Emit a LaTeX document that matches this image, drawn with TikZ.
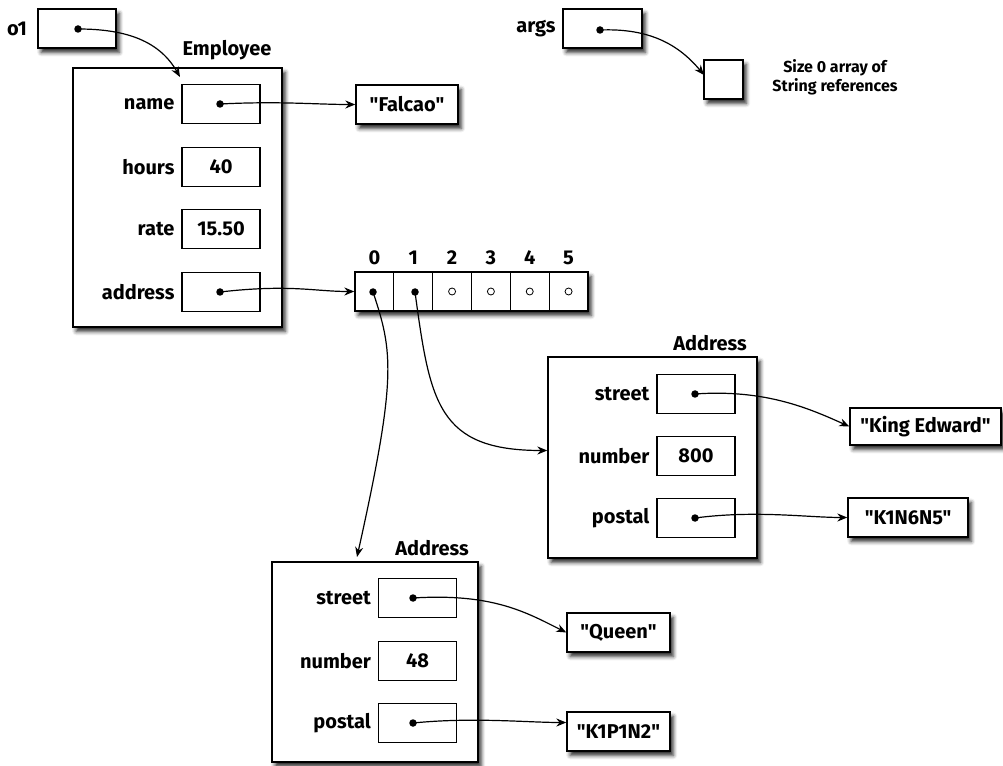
\documentclass[tikz,border=0pt]{standalone}
\usepackage{fontspec}
\setmainfont{Fira Sans}[Ligatures=TeXOff]
\usetikzlibrary{arrows.meta,shadows.blur,calc,positioning}
% straight double quotes around a string value
\newcommand{\strval}[1]{"#1"}

\begin{document}
\begin{tikzpicture}[x=0.75pt,y=-0.75pt,
  font=\bfseries\fontsize{15}{17}\selectfont,
  sz/.style 2 args={minimum width=#1*0.75pt, minimum height=#2*0.75pt},
  shad/.style={blur shadow={shadow xshift=2.4pt, shadow yshift=-3.3pt,
      shadow blur radius=3pt, shadow opacity=85}},
  obj/.style={draw, line width=1pt, fill=white, inner sep=0pt, shad},
  field/.style={draw, line width=1pt, fill=white, inner sep=0pt, sz={78}{39}},
  cell/.style={draw, line width=0.9pt, fill=white, inner sep=0pt, sz={38.83}{39}},
  strbox/.style={obj, inner xsep=5pt},
  lbl/.style={anchor=east, inner sep=0pt},
  ttl/.style={inner sep=0pt},
  dot/.style={circle, fill=black, inner sep=0pt, minimum size=7.5*0.75pt},
  odot/.style={circle, draw, line width=0.6pt, inner sep=0pt, minimum size=7*0.75pt},
  ptr/.style={line width=0.9pt, -{Stealth[length=10*0.75pt, width=8*0.75pt]}}
]
\useasboundingbox (0,0) rectangle (1003,766);

% ---------- local variable o1 ----------
\node[obj, sz={78}{39}] (o1) at (77,28.5) {};
\node[ttl] (o1lbl) at (17,29) {o1};
\node[dot] (o1d) at (78,29) {};

% ---------- Employee object ----------
\node[ttl] (empttl) at (227,50) {Employee};
\node[obj, sz={209}{259}] (emp) at (177.5,197.5) {};
\node[field] (fname) at (221,104) {};
\node[field] (fhours) at (221,167) {40};
\node[field] (frate) at (221,229) {15.50};
\node[field] (faddr) at (221,292) {};
\node[lbl, left=5pt of fname] (lname) {name};
\node[lbl, left=5pt of fhours] (lhours) {hours};
\node[lbl, left=5pt of frate] (lrate) {rate};
\node[lbl, left=5pt of faddr] (laddr) {address};
\node[dot] (dname) at (220,104) {};
\node[dot] (daddr) at (220,292) {};
\coordinate (empin) at (180,77);

\node[strbox, sz={102}{39}] (falcao) at (407,104.5) {\strval{Falcao}};

% ---------- array of addresses ----------
\node[obj, sz={233}{39}] (arr) at (471.5,291.5) {};
\foreach \i in {0,...,5} {
  \node[cell] (c\i) at ({355+38.83*(\i+0.5)},291.5) {};
  \node[ttl] (idx\i) at ({355+38.83*(\i+0.5)},258) {\i};
}
\node[dot] (d0) at (373,292) {};
\node[dot] (d1) at (415,292) {};
\foreach \i in {2,...,5} \node[odot] (o\i) at (c\i) {};

% ---------- args ----------
\node[ttl] (argslbl) at (536,29) {args};
\node[obj, sz={79}{39}] (args) at (602.5,28.5) {};
\node[dot] (dargs) at (600,30) {};
\node[obj, sz={39}{39}] (empty) at (723.5,79.5) {};
\coordinate (emptyin) at (704,75);
\node[ttl, align=center, font=\bfseries\fontsize{12}{14}\selectfont] (note) at (835,77)
  {Size 0 array of\\String references};

% ---------- first Address object ----------
\node[ttl] (a1ttl) at (710,343) {Address};
\node[obj, sz={209}{201}] (addr1) at (652.5,457.5) {};
\node[field] (a1s) at (696,394) {};
\node[field] (a1n) at (696,456) {800};
\node[field] (a1p) at (696,518) {};
\node[lbl, left=5pt of a1s] (a1sl) {street};
\node[lbl, left=5pt of a1n] (a1nl) {number};
\node[lbl, left=5pt of a1p] (a1pl) {postal};
\node[dot] (a1sd) at (695,394) {};
\node[dot] (a1pd) at (695,518) {};
\coordinate (addr1in) at ($(addr1.west)+(0,-7)$);

\node[strbox, sz={151}{37}] (king) at (925.5,426.5) {\strval{King Edward}};
\node[strbox, sz={120}{39}] (k1n) at (908,517.5) {\strval{K1N6N5}};

% ---------- second Address object ----------
\node[ttl] (a2ttl) at (432,548) {Address};
\node[obj, sz={206}{200}] (addr2) at (375,662) {};
\node[field] (a2s) at (417.5,598) {};
\node[field] (a2n) at (417.5,661) {48};
\node[field] (a2p) at (417.5,723) {};
\node[lbl, left=5pt of a2s] (a2sl) {street};
\node[lbl, left=5pt of a2n] (a2nl) {number};
\node[lbl, left=5pt of a2p] (a2pl) {postal};
\node[dot] (a2sd) at (413,598) {};
\node[dot] (a2pd) at (413,723) {};
\coordinate (addr2in) at (357,557);

\node[strbox, sz={103}{39}] (queen) at (618.5,632.5) {\strval{Queen}};
\node[strbox, sz={103}{39}] (k1p) at (618.5,731.5) {\strval{K1P1N2}};
\coordinate (k1pin) at ($(k1p.west)+(0,-9)$);

% ---------- references ----------
\draw[ptr] (o1d.center) .. controls +(50,0) and +(-20,-35) .. (empin);
\draw[ptr] (dname.center) .. controls +(60,-3) and +(-40,0) .. (falcao.west);
\draw[ptr] (daddr.center) .. controls +(70,-8) and +(-40,0) .. (arr.west);
\draw[ptr] (dargs.center) .. controls +(50,-2) and +(-25,-30) .. (emptyin);
\draw[ptr] (d0.center) .. controls +(20,60) and +(40,-180) .. (addr2in);
\draw[ptr] (d1.center) .. controls +(15,110) and +(-110,0) .. (addr1in);
\draw[ptr] (a1sd.center) .. controls +(70,-5) and +(-40,-18) .. (king.west);
\draw[ptr] (a1pd.center) .. controls +(60,-8) and +(-40,0) .. (k1n.west);
\draw[ptr] (a2sd.center) .. controls +(80,-5) and +(-40,-20) .. (queen.west);
\draw[ptr] (a2pd.center) .. controls +(60,-6) and +(-40,0) .. (k1pin);
\end{tikzpicture}
\end{document}
